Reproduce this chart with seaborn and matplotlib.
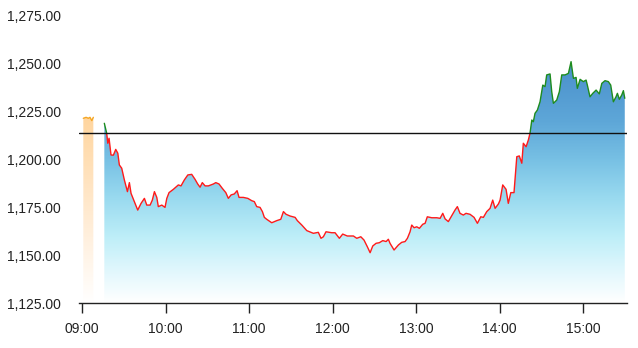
import numpy as np
import pandas as pd
import matplotlib
matplotlib.use("Agg")
import matplotlib.pyplot as plt
import seaborn as sns
from matplotlib.colors import LinearSegmentedColormap
from matplotlib.patches import Rectangle, PathPatch
from matplotlib.ticker import FuncFormatter, FixedLocator

# ---------------- data (minutes after 09:00, index value) ----------------
pre_times = [0.9, 2.9, 4.5, 5.7, 7.0, 8.1]
pre_values = [1221.2, 1221.7, 1221.2, 1221.7, 1220.0, 1221.7]

times = [16.0, 17.7, 18.5, 19.4, 20.8, 22.5, 24.2, 25.7, 26.8, 28.5, 30.4, 32.6, 34.0,
         35.2, 37.6, 40.0, 42.4, 44.8, 46.5, 48.9, 50.5, 52.0, 53.7, 54.8, 57.3, 59.6,
         60.9, 62.5, 65.6, 69.2, 71.1, 73.5, 76.0, 78.8, 81.2, 83.1, 84.8, 86.4, 88.4,
         90.8, 94.4, 96.1, 98.4, 100.8, 103.3, 105.1, 107.1, 109.4, 111.4, 112.8, 115.9,
         119.1, 121.9, 123.8, 125.5, 127.9, 129.6, 131.0, 132.7, 136.3, 139.9, 142.8,
         144.7, 146.6, 149.5, 153.1, 154.7, 157.9, 161.5, 166.2, 169.8, 171.7, 173.4,
         175.3, 179.4, 181.8, 184.9, 187.3, 190.6, 195.0, 197.4, 200.3, 202.6, 205.0,
         207.0, 208.9, 211.3, 213.6, 216.1, 218.5, 220.1, 221.3, 224.2, 227.3, 229.7,
         232.1, 233.8, 235.7, 236.9, 238.6, 240.5, 242.4, 244.8, 246.5, 248.1, 251.3,
         254.9, 257.3, 259.2, 260.9, 263.2, 265.7, 268.0, 269.7, 271.6, 274.0, 275.9,
         278.8, 281.7, 284.1, 286.5, 288.4, 290.8, 293.2, 295.1, 296.8, 299.2, 300.4,
         302.3, 304.7, 306.3, 308.1, 310.4, 312.4, 314.2, 316.0, 317.1, 319.1, 320.7,
         321.9, 323.2, 324.3, 325.5, 327.2, 329.1, 331.1, 332.7, 333.9, 336.3, 337.5,
         338.7, 341.1, 343.0, 344.7, 347.1, 349.5, 351.4, 353.1, 355.0, 355.9, 357.9,
         360.2, 362.2, 363.1, 365.0, 367.0, 369.4, 371.7, 373.5, 375.8, 378.2, 379.9,
         381.8, 383.7, 384.7, 386.1, 387.8, 389.0, 390.0]
values = [1218.6, 1213.4, 1208.2, 1210.8, 1202.1, 1202.0, 1205.0, 1203.0, 1196.9, 1195.2,
          1189.1, 1183.0, 1187.7, 1182.1, 1177.8, 1173.4, 1176.9, 1179.5, 1176.0, 1176.0,
          1178.6, 1183.0, 1180.0, 1175.2, 1176.0, 1174.8, 1179.5, 1182.5, 1184.2, 1186.5,
          1186.0, 1189.1, 1191.7, 1192.0, 1189.4, 1187.0, 1185.3, 1187.7, 1186.0, 1186.0,
          1187.0, 1187.7, 1187.0, 1184.7, 1182.5, 1179.5, 1181.3, 1181.8, 1183.5, 1180.0,
          1180.0, 1179.5, 1178.3, 1177.8, 1175.2, 1174.8, 1172.6, 1169.6, 1168.6, 1166.8,
          1167.9, 1168.6, 1172.6, 1171.2, 1170.3, 1169.6, 1167.9, 1165.6, 1162.7, 1161.3,
          1161.8, 1158.7, 1159.5, 1162.1, 1161.6, 1161.6, 1158.7, 1160.9, 1159.9, 1159.9,
          1158.7, 1159.5, 1157.8, 1154.3, 1151.2, 1154.7, 1156.1, 1156.4, 1157.5, 1157.0,
          1158.2, 1156.1, 1152.6, 1155.2, 1156.6, 1157.0, 1158.7, 1162.1, 1165.6, 1164.2,
          1164.7, 1163.9, 1166.0, 1166.5, 1169.9, 1169.4, 1169.4, 1169.1, 1171.7, 1168.8,
          1167.4, 1170.5, 1173.4, 1175.2, 1171.7, 1170.8, 1171.7, 1171.2, 1169.6, 1166.5,
          1169.9, 1169.6, 1172.6, 1174.3, 1178.6, 1174.3, 1176.6, 1178.6, 1186.5, 1184.2,
          1176.9, 1182.5, 1182.5, 1201.2, 1201.6, 1197.8, 1208.2, 1206.4, 1209.9, 1213.4,
          1220.3, 1219.4, 1223.8, 1225.5, 1229.8, 1238.5, 1237.7, 1243.8, 1244.3, 1235.1,
          1229.0, 1230.7, 1235.1, 1243.8, 1243.8, 1244.6, 1250.7, 1242.0, 1242.5, 1236.8,
          1241.5, 1240.3, 1241.1, 1238.5, 1232.4, 1234.2, 1235.9, 1233.9, 1239.4, 1240.8,
          1240.3, 1238.5, 1229.8, 1232.4, 1234.2, 1231.1, 1233.3, 1235.6, 1231.6]

reference_value = 1213.5
tick_minutes = [0, 60, 120, 180, 240, 300, 360]
tick_labels = ["09:00", "10:00", "11:00", "12:00", "13:00", "14:00", "15:00"]
y_ticks = [1125, 1150, 1175, 1200, 1225, 1250, 1275]

# ---------------- figure ----------------
sns.set_theme(style="white")
plt.rcParams["font.family"] = ["Liberation Sans", "DejaVu Sans"]

fig = plt.figure(figsize=(6.38, 3.48), dpi=100)
ax = fig.add_axes([79 / 638, 45 / 348, 548 / 638, 288 / 348])

xmin, xmax = -2.2, 391.6
ymin, ymax = 1125, 1275

blue_cmap = LinearSegmentedColormap.from_list(
    "blue_grad",
    [(0.0, "#ffffff"), (0.10, "#e4f8fd"), (0.23, "#bdeef8"), (0.37, "#98d9ef"),
     (0.50, "#77c0e4"), (0.63, "#5ea7d8"), (0.83, "#4a90cc"), (1.0, "#3f84c4")])
orange_cmap = LinearSegmentedColormap.from_list(
    "orange_grad", [(0.0, "#ffffff"), (0.35, "#fff0de"), (1.0, "#ffd59e")])

grad = np.linspace(0, 1, 256).reshape(-1, 1)

# main gradient area
df = pd.DataFrame({"t": times, "v": values})
poly = ax.fill_between(df["t"], df["v"], ymin, color="none", lw=0)
clip_main = PathPatch(poly.get_paths()[0], transform=ax.transData, fc="none", ec="none")
ax.add_patch(clip_main)
im = ax.imshow(grad, extent=[xmin, xmax, ymin, ymax], origin="lower", cmap=blue_cmap,
               aspect="auto", zorder=1, interpolation="bilinear")
im.set_clip_path(clip_main)

# pre-market gradient area
pre_df = pd.DataFrame({"t": pre_times, "v": pre_values})
poly2 = ax.fill_between(pre_df["t"], pre_df["v"], ymin, color="none", lw=0)
clip_pre = PathPatch(poly2.get_paths()[0], transform=ax.transData, fc="none", ec="none")
ax.add_patch(clip_pre)
im2 = ax.imshow(grad, extent=[xmin, xmax, ymin, 1222], origin="lower", cmap=orange_cmap,
                aspect="auto", zorder=1, interpolation="bilinear")
im2.set_clip_path(clip_pre)

# lines: red below reference, green above
sns.lineplot(data=df, x="t", y="v", ax=ax, color="#ff1a1a", lw=1.0, zorder=3)
red_line = ax.lines[-1]
red_line.set_clip_path(Rectangle((xmin, ymin - 10), xmax - xmin, reference_value - ymin + 10,
                                 transform=ax.transData))
sns.lineplot(data=df, x="t", y="v", ax=ax, color="#1e8c1e", lw=1.0, zorder=3)
green_line = ax.lines[-1]
green_line.set_clip_path(Rectangle((xmin, reference_value), xmax - xmin, ymax - reference_value + 10,
                                   transform=ax.transData))
sns.lineplot(data=pre_df, x="t", y="v", ax=ax, color="#f5a623", lw=1.0, zorder=3)

ax.axhline(reference_value, color="#111111", lw=1.0, zorder=4)

ax.set_xlim(xmin, xmax)
ax.set_ylim(ymin, ymax)
ax.set_xlabel("")
ax.set_ylabel("")

ax.xaxis.set_major_locator(FixedLocator(tick_minutes))
ax.set_xticklabels(tick_labels)
ax.yaxis.set_major_locator(FixedLocator(y_ticks))
ax.yaxis.set_major_formatter(FuncFormatter(lambda v, _: f"{v:,.2f}"))

for side in ["top", "right", "left"]:
    ax.spines[side].set_visible(False)
ax.spines["bottom"].set_color("#222222")
ax.spines["bottom"].set_linewidth(1.0)

ax.tick_params(axis="x", direction="out", length=7.5, width=1, color="#222222",
               labelsize=10, labelcolor="#222222", pad=6, bottom=True)
ax.tick_params(axis="y", length=0, labelsize=10, labelcolor="#222222", pad=13)
ax.grid(False)
ax.set_facecolor("white")

fig.savefig("out.png", dpi=100, facecolor="white")
